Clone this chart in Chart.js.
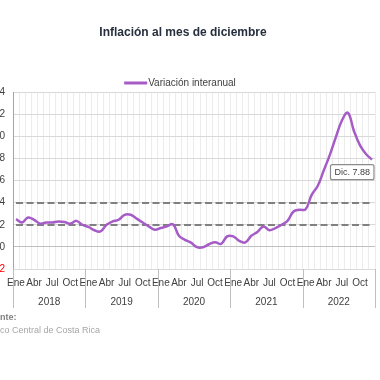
<!DOCTYPE html>
<html><head><meta charset="utf-8">
<script src="https://cdn.jsdelivr.net/npm/chart.js@4"></script>
<style>
html,body{margin:0;padding:0;width:380px;height:380px;overflow:hidden;background:#fff;position:relative;font-family:"Liberation Sans",Arial,sans-serif}
#wrap{position:absolute;left:-20px;top:0;width:400px;height:380px}
.src{position:absolute;left:-16px;font-size:9px;line-height:10px;white-space:nowrap}
</style></head>
<body>
<div id="wrap"><canvas id="c" width="400" height="380" style="width:400px;height:380px"></canvas></div>
<div class="src" style="top:312px;font-weight:bold;color:#808080">Fuente:</div>
<div class="src" style="top:325px;color:#a6a6a6">Banco Central de Costa Rica</div>
<script>
const chartTitle = 'Inflación al mes de diciembre';
const seriesName = 'Variación interanual';
const years = ['2018', '2019', '2020', '2021', '2022'];
const monthNames = ['Ene','Feb','Mar','Abr','May','Jun','Jul','Ago','Sep','Oct','Nov','Dic'];
const shownMonths = ['Ene', 'Abr', 'Jul', 'Oct'];
const infl2018 = [2.5, 2.2, 2.65, 2.45, 2.1, 2.2, 2.2, 2.3, 2.25, 2.1, 2.35, 2.0];
const infl2019 = [1.8, 1.5, 1.4, 2.0, 2.3, 2.45, 2.9, 2.9, 2.55, 2.2, 1.85, 1.55];
const infl2020 = [1.7, 1.85, 2.05, 1.0, 0.63, 0.39, -0.03, -0.03, 0.24, 0.42, 0.27, 0.95];
const infl2021 = [0.95, 0.55, 0.4, 1.0, 1.35, 1.85, 1.5, 1.7, 2.0, 2.35, 3.2, 3.35];
const infl2022 = [3.4, 4.7, 5.5, 6.9, 8.3, 9.9, 11.4, 12.13, 10.5, 9.2, 8.4, 7.88];
const yMin = -2, yMax = 14, yStep = 2;
const targetBand = [2, 4];

const labels = years.flatMap(y => monthNames.map(m => m + ' ' + y));
const inflation = [].concat(infl2018, infl2019, infl2020, infl2021, infl2022);

const FONT = '"Liberation Sans", Arial, sans-serif';
const TXT = '#404040';
const PURPLE = '#a65cc6';

const deco = {
  id: 'deco',
  beforeDatasetsDraw(chart) {
    const {ctx, scales: {x, y}} = chart;
    ctx.save();
    ctx.strokeStyle = '#808080';
    ctx.lineWidth = 2.2;
    ctx.setLineDash([7, 3.5]);
    targetBand.forEach(v => {
      const py = Math.round(y.getPixelForValue(v));
      ctx.beginPath();
      ctx.moveTo(x.getPixelForValue(0), py);
      ctx.lineTo(x.getPixelForValue(labels.length - 1), py);
      ctx.stroke();
    });
    ctx.restore();
  },
  afterDraw(chart) {
    const {ctx, chartArea: a, scales: {x, y}, width} = chart;
    ctx.save();
    // title
    ctx.font = 'bold 12px ' + FONT;
    ctx.fillStyle = '#262f3d';
    ctx.textAlign = 'center';
    ctx.textBaseline = 'middle';
    ctx.fillText(chartTitle, width / 2 + 3, 33);
    // legend
    ctx.font = '10px ' + FONT;
    const tw = ctx.measureText(seriesName).width;
    const total = 23 + 1 + tw;
    const lx = width / 2 - total / 2;
    ctx.strokeStyle = PURPLE;
    ctx.lineWidth = 3;
    ctx.beginPath(); ctx.moveTo(lx, 83); ctx.lineTo(lx + 23, 83); ctx.stroke();
    ctx.fillStyle = TXT;
    ctx.textAlign = 'left';
    ctx.fillText(seriesName, lx + 24, 83);
    // year separators and labels
    const half = (x.getPixelForValue(1) - x.getPixelForValue(0)) / 2;
    ctx.strokeStyle = '#bfbfbf';
    ctx.lineWidth = 1;
    ctx.textAlign = 'center';
    ctx.font = '10px ' + FONT;
    for (let k = 0; k <= years.length; k++) {
      const bx = Math.round(k < years.length ? x.getPixelForValue(k * 12) - half : x.getPixelForValue(k * 12 - 1) + half) + 0.5;
      ctx.beginPath(); ctx.moveTo(bx, a.bottom); ctx.lineTo(bx, 308); ctx.stroke();
    }
    years.forEach((yr, k) => {
      const cx = (x.getPixelForValue(k * 12) + x.getPixelForValue(k * 12 + 11)) / 2;
      ctx.fillStyle = TXT;
      ctx.fillText(yr, cx, 302);
    });
    // last value annotation
    const li = inflation.length - 1;
    const px = x.getPixelForValue(li), py = y.getPixelForValue(inflation[li]);
    const txt = monthNames[11] + '. ' + inflation[li].toFixed(2);
    ctx.font = '9px ' + FONT;
    const w = ctx.measureText(txt).width + 8;
    const bx0 = px + 2 - w, by0 = py + 5, bh = 15;
    ctx.beginPath();
    if (ctx.roundRect) ctx.roundRect(bx0, by0, w, bh, 2); else ctx.rect(bx0, by0, w, bh);
    ctx.fillStyle = '#fff'; ctx.fill();
    ctx.strokeStyle = '#8c8c8c'; ctx.lineWidth = 1.2; ctx.stroke();
    ctx.fillStyle = TXT;
    ctx.textAlign = 'center';
    ctx.fillText(txt, bx0 + w / 2, by0 + bh / 2 + 0.5);
    ctx.restore();
  }
};

new Chart(document.getElementById('c'), {
  type: 'line',
  data: {
    labels: labels,
    datasets: [{
      label: seriesName,
      data: inflation,
      borderColor: PURPLE,
      backgroundColor: PURPLE,
      borderWidth: 2.5,
      pointRadius: 0,
      tension: 0.4,
      fill: false
    }]
  },
  options: {
    responsive: false,
    animation: false,
    events: [],
    layout: {padding: {top: 92, right: 2, bottom: 66, left: 0}},
    plugins: {legend: {display: false}, title: {display: false}, tooltip: {enabled: false}},
    scales: {
      x: {
        type: 'category',
        offset: true,
        grid: {offset: true, color: '#ececec', lineWidth: 1, drawTicks: false},
        border: {display: true, color: '#d9d9d9'},
        ticks: {
          autoSkip: false, maxRotation: 0, minRotation: 0, padding: 8,
          color: TXT, font: {family: FONT, size: 10},
          callback: function (v, i) { const m = monthNames[i % 12]; return shownMonths.includes(m) ? m : ''; }
        },
        afterFit(s) { s.height = 45; }
      },
      y: {
        min: yMin, max: yMax,
        grid: {
          color: c => c.tick && c.tick.value === 0 ? '#bfbfbf' : '#d9d9d9',
          drawTicks: false
        },
        border: {display: true, color: '#a6a6a6'},
        ticks: {
          stepSize: yStep, padding: 8,
          color: c => c.tick && c.tick.value < 0 ? '#ff0000' : TXT,
          font: {family: FONT, size: 10}
        },
        afterFit(s) { s.width = 33; }
      }
    }
  },
  plugins: [deco]
});
</script>
</body></html>
